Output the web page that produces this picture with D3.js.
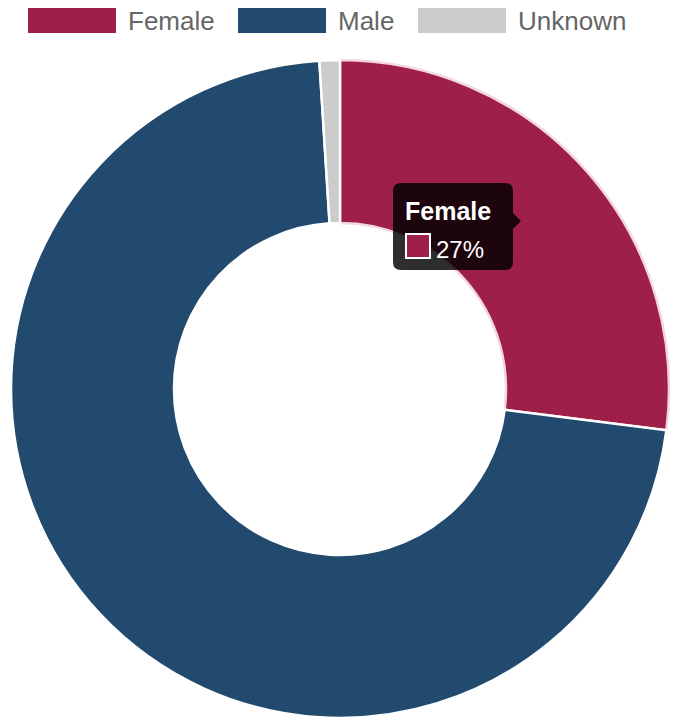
<!DOCTYPE html>
<html>
<head>
<meta charset="utf-8">
<script src="https://cdn.jsdelivr.net/npm/d3@7"></script>
<style>
  html, body { margin: 0; padding: 0; background: #fff; }
  svg { display: block; font-family: "Liberation Sans", Arial, sans-serif; }
</style>
</head>
<body>
<svg id="chart" width="679" height="721"></svg>
<script>
  // chart data
  var categories = ["Female", "Male", "Unknown"];
  var values = [27, 72, 1];
  var colors = ["#9e1f47", "#214a6e", "#cccccc"];
  var hovered = "Female";

  var svg = d3.select("#chart");
  var cx = 340, cy = 389, outerR = 329, innerR = 166;

  // legend across the top
  var legendX = d3.scaleOrdinal()
    .domain(categories)
    .range([28, 238, 418]);

  var legend = svg.append("g")
    .selectAll("g")
    .data(categories)
    .enter()
      .append("g")
      .attr("transform", function(d){ return "translate(" + legendX(d) + ",8)"; });

  legend.append("rect")
    .attr("width", 88)
    .attr("height", 25)
    .attr("fill", function(d, i){ return colors[i]; });

  legend.append("text")
    .attr("x", 100)
    .attr("y", 22)
    .attr("fill", "#666")
    .style("font-size", "26px")
    .text(function(d){ return d; });

  // donut
  var pie = d3.pie().sort(null).value(function(d){ return d; });
  var arcs = pie(values);

  var arc = d3.arc().innerRadius(innerR).outerRadius(outerR);

  var g = svg.append("g").attr("transform", "translate(" + cx + "," + cy + ")");

  g.selectAll("path")
    .data(arcs)
    .enter()
      .append("path")
      .attr("d", arc)
      .attr("fill", function(d, i){ return colors[i]; })
      .attr("stroke", function(d, i){ return categories[i] === hovered ? "#f3d6de" : "#fff"; })
      .attr("stroke-width", 2.5)
      .attr("stroke-linejoin", "round");

  // tooltip for hovered slice
  var hi = categories.indexOf(hovered);
  var tip = svg.append("g").attr("transform", "translate(393,183)");

  tip.append("path")
    .attr("d", "M8,0 H112 Q120,0 120,8 V30 L128,38 L120,46 V79 Q120,87 112,87 H8 Q0,87 0,79 V8 Q0,0 8,0 Z")
    .attr("fill", "rgba(0,0,0,0.82)");

  tip.append("text")
    .attr("x", 12)
    .attr("y", 37)
    .attr("fill", "#fff")
    .style("font-size", "25px")
    .style("font-weight", "bold")
    .text(hovered);

  tip.append("rect")
    .attr("x", 13)
    .attr("y", 51)
    .attr("width", 24)
    .attr("height", 24)
    .attr("fill", colors[hi])
    .attr("stroke", "#fff")
    .attr("stroke-width", 2);

  tip.append("text")
    .attr("x", 43)
    .attr("y", 75)
    .attr("fill", "#fff")
    .style("font-size", "24px")
    .text(values[hi] + "%");
</script>
</body>
</html>
